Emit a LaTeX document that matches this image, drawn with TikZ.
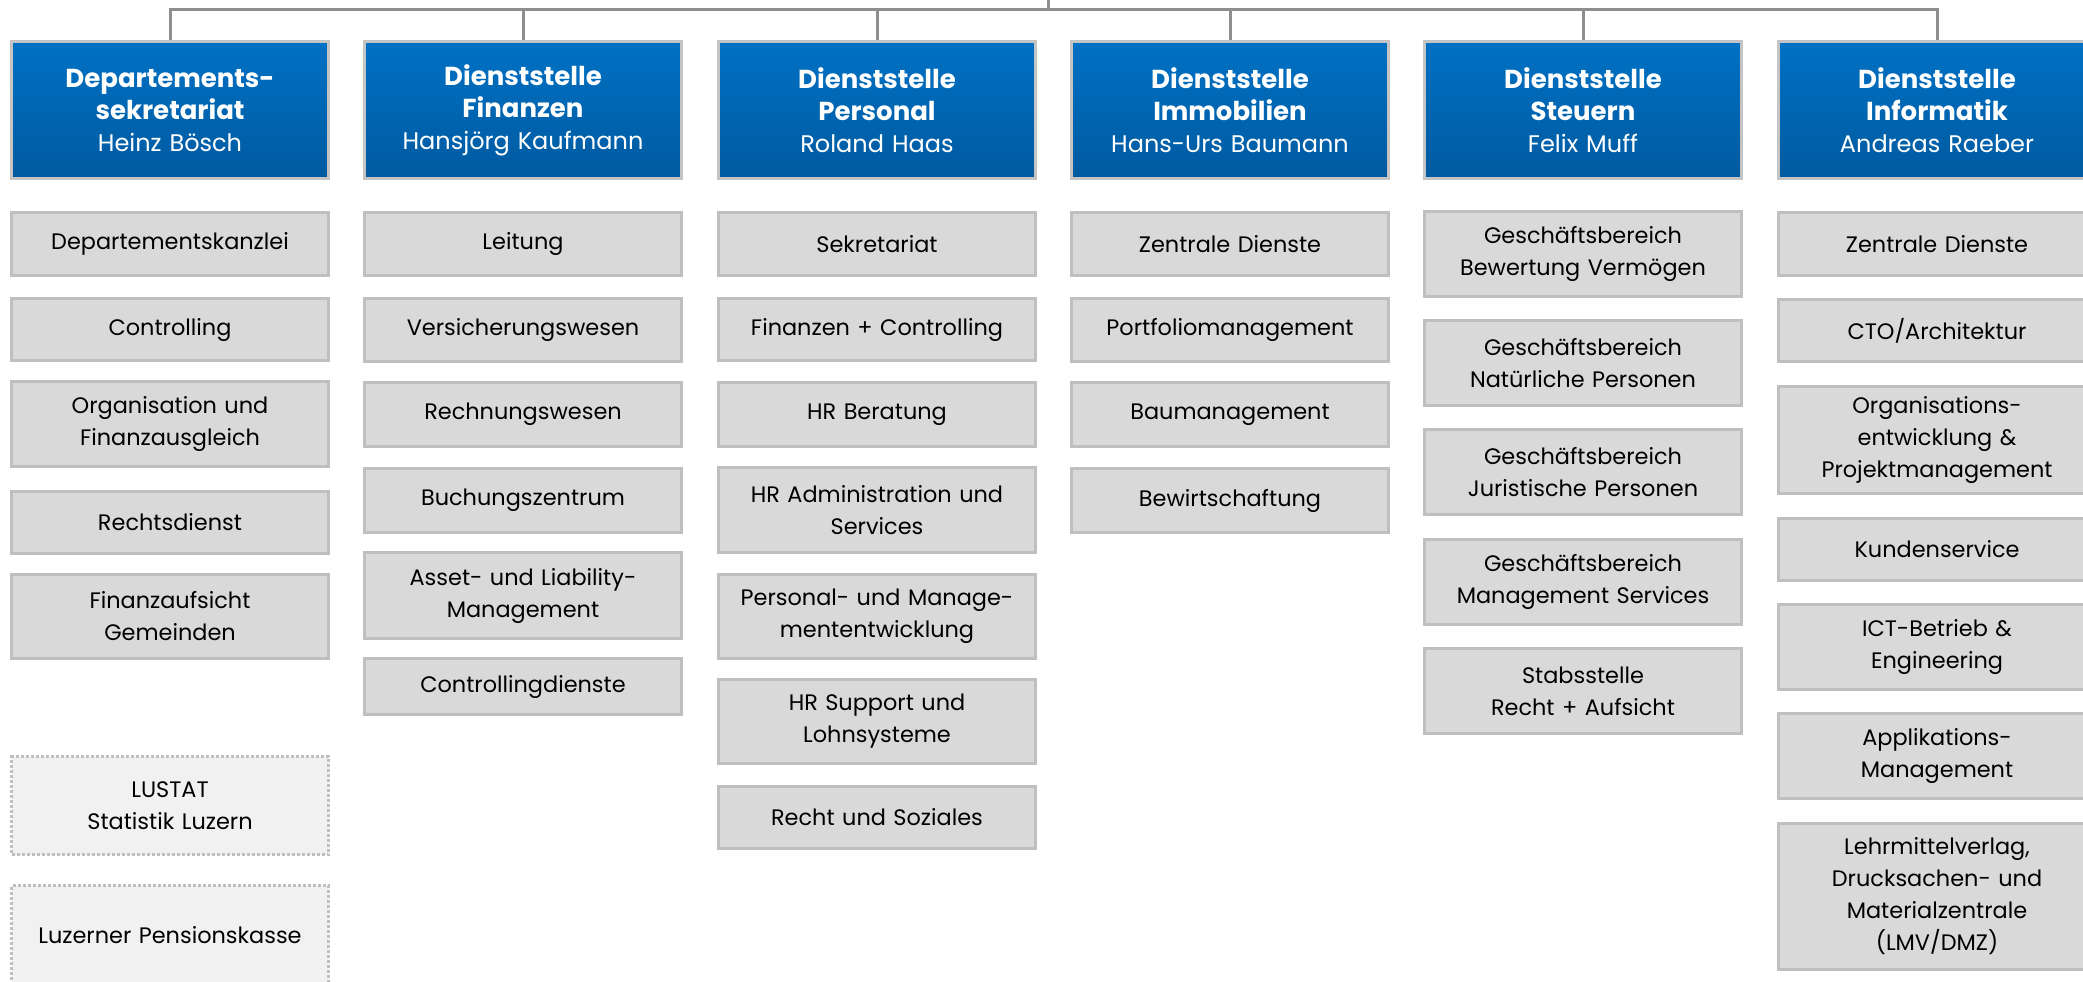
\documentclass[tikz,border=0pt]{standalone}
\usepackage{fontspec}
\setmainfont{Poppins}
\definecolor{hdtop}{HTML}{0071C4}
\definecolor{hdbot}{HTML}{005AA0}
\definecolor{hdline}{HTML}{C4C4C4}
\definecolor{gfill}{HTML}{D9D9D9}
\definecolor{gline}{HTML}{BFBFBF}
\definecolor{lfill}{HTML}{F1F1F1}
\definecolor{connc}{HTML}{8E8E8E}
\newcommand{\hdt}[1]{{\fontsize{26}{32}\selectfont\bfseries #1}}
\begin{document}
\begin{tikzpicture}[x=1pt,y=-1pt,
  hd/.style={anchor=north west, minimum width=317pt, minimum height=137pt, text width=312pt, align=center, draw=hdline, line width=3pt, top color=hdtop, bottom color=hdbot, text=white, font=\fontsize{24}{32}\selectfont, inner sep=0pt},
  gb/.style={anchor=north west, minimum width=317pt, text width=312pt, align=center, draw=gline, line width=3pt, fill=gfill, font=\fontsize{22.4}{32}\selectfont, inner sep=0pt},
  lb/.style={gb, fill=lfill, dotted},
  connline/.style={draw=connc, line width=3pt}]
\useasboundingbox (0,0) rectangle (2083,982);
\clip (0,0) rectangle (2083,982);
% headers
\node[hd] (h1) at (10,40) {\hdt{Departements-}\\\hdt{sekretariat}\\Heinz Bösch};
\node[hd] (h2) at (363,40) {\hdt{Dienststelle}\\\hdt{Finanzen}\\Hansjörg Kaufmann};
\node[hd] (h3) at (717,40) {\hdt{Dienststelle}\\\hdt{Personal}\\Roland Haas};
\node[hd] (h4) at (1070,40) {\hdt{Dienststelle}\\\hdt{Immobilien}\\Hans-Urs Baumann};
\node[hd] (h5) at (1423,40) {\hdt{Dienststelle}\\\hdt{Steuern}\\Felix Muff};
\node[hd] (h6) at (1777,40) {\hdt{Dienststelle}\\\hdt{Informatik}\\Andreas Raeber};
% connectors
\coordinate (top) at (1048,0);
\coordinate (bus) at (1048,10);
\draw[connline] (top) -- (bus);
\draw[connline] (h1.north) -- (h1.north |- bus) -- (h6.north |- bus) -- (h6.north);
\draw[connline] (h2.north) -- (h2.north |- bus);
\draw[connline] (h3.north) -- (h3.north |- bus);
\draw[connline] (h4.north) -- (h4.north |- bus);
\draw[connline] (h5.north) -- (h5.north |- bus);
% column 1
\node[gb, minimum height=63pt] (a1) at (10,211) {Departementskanzlei};
\node[gb, minimum height=62pt] (a2) at (10,297) {Controlling};
\node[gb, minimum height=85pt] (a3) at (10,380) {Organisation und\\Finanzausgleich};
\node[gb, minimum height=62pt] (a4) at (10,490) {Rechtsdienst};
\node[gb, minimum height=84pt] (a5) at (10,573) {Finanzaufsicht\\Gemeinden};
\node[lb, minimum height=98pt] (a6) at (10,755) {LUSTAT\\Statistik Luzern};
\node[lb, minimum height=100pt] (a7) at (10,884) {Luzerner Pensionskasse};
% column 2
\node[gb, minimum height=63pt] (b1) at (363,211) {Leitung};
\node[gb, minimum height=63pt] (b2) at (363,297) {Versicherungswesen};
\node[gb, minimum height=64pt] (b3) at (363,381) {Rechnungswesen};
\node[gb, minimum height=64pt] (b4) at (363,467) {Buchungszentrum};
\node[gb, minimum height=86pt] (b5) at (363,551) {Asset- und Liability-\\Management};
\node[gb, minimum height=56pt] (b6) at (363,657) {Controllingdienste};
% column 3
\node[gb, minimum height=63pt] (c1) at (717,211) {Sekretariat};
\node[gb, minimum height=62pt] (c2) at (717,297) {Finanzen + Controlling};
\node[gb, minimum height=64pt] (c3) at (717,381) {HR Beratung};
\node[gb, minimum height=85pt] (c4) at (717,466) {HR Administration und\\Services};
\node[gb, minimum height=84pt] (c5) at (717,573) {Personal- und Manage-\\mententwicklung};
\node[gb, minimum height=84pt] (c6) at (717,678) {HR Support und\\Lohnsysteme};
\node[gb, minimum height=62pt] (c7) at (717,785) {Recht und Soziales};
% column 4
\node[gb, minimum height=63pt] (d1) at (1070,211) {Zentrale Dienste};
\node[gb, minimum height=63pt] (d2) at (1070,297) {Portfoliomanagement};
\node[gb, minimum height=64pt] (d3) at (1070,381) {Baumanagement};
\node[gb, minimum height=64pt] (d4) at (1070,467) {Bewirtschaftung};
% column 5
\node[gb, minimum height=85pt] (e1) at (1423,210) {Geschäftsbereich\\Bewertung Vermögen};
\node[gb, minimum height=85pt] (e2) at (1423,319) {Geschäftsbereich\\Natürliche Personen};
\node[gb, minimum height=85pt] (e3) at (1423,428) {Geschäftsbereich\\Juristische Personen};
\node[gb, minimum height=85pt] (e4) at (1423,538) {Geschäftsbereich\\Management Services};
\node[gb, minimum height=85pt] (e5) at (1423,647) {Stabsstelle\\Recht + Aufsicht};
% column 6
\node[gb, minimum height=63pt] (f1) at (1777,211) {Zentrale Dienste};
\node[gb, minimum height=62pt] (f2) at (1777,298) {CTO/Architektur};
\node[gb, minimum height=107pt] (f3) at (1777,385) {Organisations-\\entwicklung \&\\Projektmanagement};
\node[gb, minimum height=62pt] (f4) at (1777,517) {Kundenservice};
\node[gb, minimum height=85pt] (f5) at (1777,603) {ICT-Betrieb \&\\Engineering};
\node[gb, minimum height=85pt] (f6) at (1777,712) {Applikations-\\Management};
\node[gb, minimum height=146pt] (f7) at (1777,822) {Lehrmittelverlag,\\Drucksachen- und\\Materialzentrale\\(LMV/DMZ)};
\end{tikzpicture}
\end{document}
